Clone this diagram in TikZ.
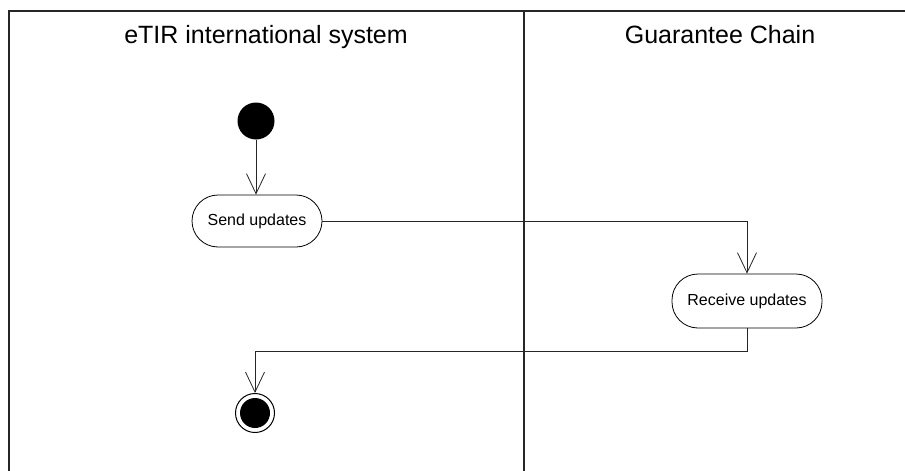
\documentclass[tikz,border=0pt]{standalone}
\usepackage{fontspec}
\setmainfont{Liberation Sans}
\usetikzlibrary{arrows.meta}
\begin{document}
\begin{tikzpicture}[x=1pt,y=-1pt,
  frame/.style={line width=1.3pt, draw=black!85},
  lanetitle/.style={font=\fontsize{25}{29}\selectfont, inner sep=0pt, anchor=base},
  action/.style={draw, line width=0.8pt, rectangle, rounded corners=26pt, inner sep=0pt,
     font=\fontsize{16}{19}\selectfont},
  flow/.style={line width=0.8pt, draw=black!85, -{Straight Barb[length=20pt,width=19pt,line width=0.8pt]}},
  initial/.style={circle, fill=black, inner sep=0pt, minimum size=37pt},
  finalouter/.style={circle, draw, line width=1pt, inner sep=0pt, minimum size=39pt},
]
\useasboundingbox (0,0) rectangle (905,471);
\fill[white] (0,0) rectangle (905,471);
% swimlanes
\draw[frame] (9,471) -- (9,11) -- (905,11);
\draw[frame] (524,11) -- (524,471);
\node[lanetitle] (t1) at (266,43) {eTIR international system};
\node[lanetitle] (t2) at (720,43) {Guarantee Chain};
% nodes
\node[initial] (start) at (256,121) {};
\node[action, minimum width=130pt, minimum height=52pt] (send) at (257,221) {Send updates};
\node[action, minimum width=150pt, minimum height=54pt] (recv) at (747,301) {Receive updates};
\node[finalouter] (final) at (255,413) {};
\fill (final.center) circle (15pt);
% flows
\draw[flow] (start) -- (send.north -| start);
\draw[flow] (send.east) -| (recv.north);
\coordinate (bend) at (747,351);
\draw[flow] (recv.south) -- (bend) -| (final.north);
\end{tikzpicture}
\end{document}
